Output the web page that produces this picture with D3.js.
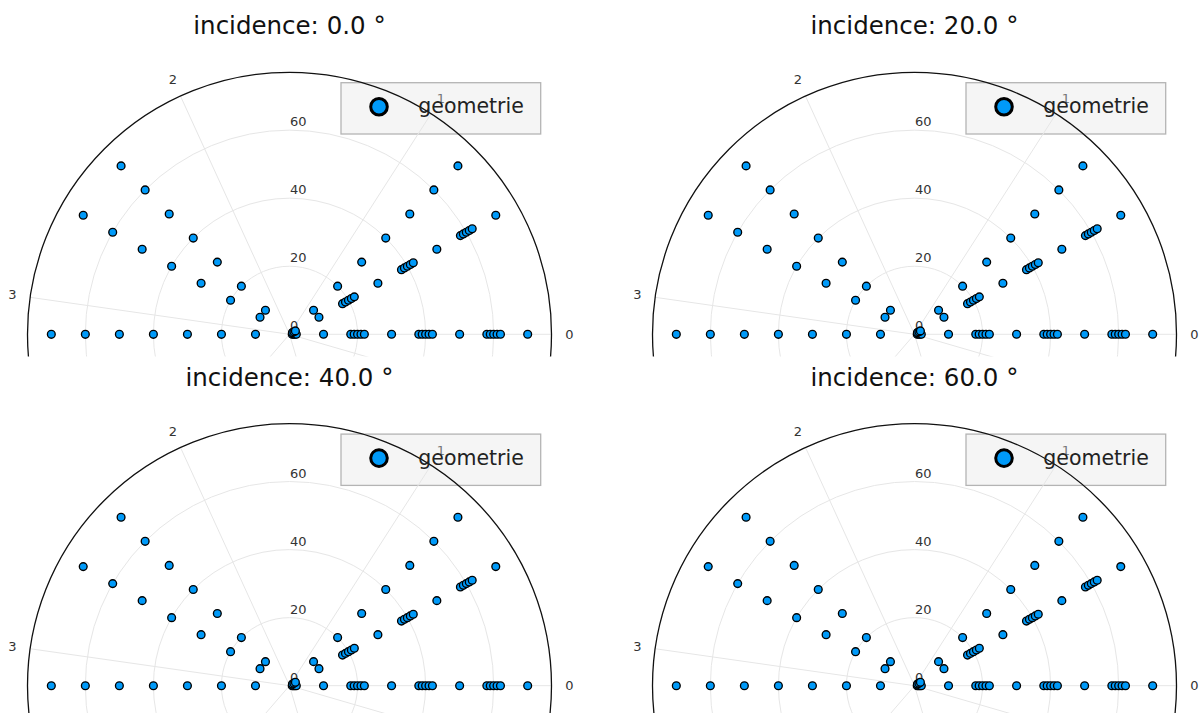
<!DOCTYPE html>
<html><head><meta charset="utf-8">
<script src="https://cdn.jsdelivr.net/npm/d3@7"></script>
<style>
body{margin:0;background:#fff}
svg{display:block}
text{font-family:"DejaVu Sans",sans-serif}
</style>
</head><body>
<svg id="chart" width="1199" height="713"></svg>
<script>
// ---- data ----
const incidences = [0.0, 20.0, 40.0, 60.0];
const seriesName = "geometrie";
const radialTicks = [0, 20, 40, 60];
const angularTicks = [0, 1, 2, 3, 4, 5, 6];
const rMax = 77;
// rays (angle in radians) and the radii of the points on each ray
const rayAngles = [0, 0.5236, 0.7854, 2.3562, 2.6180, 3.1416];
const rayRadii0   = [0.8, 1.2, 1.6, 2.0, 10, 18, 19, 20, 21, 22, 30, 38, 39, 40, 41, 42, 50, 58, 59, 60, 61, 62, 70];
const rayRadii30  = [1.0, 1.5, 2.0, 10, 18, 19, 20, 21, 22, 30, 38, 39, 40, 41, 42, 50, 58, 59, 60, 61, 62, 70];
const rayRadii45  = [10, 20, 30, 40, 50, 60, 70];
const rayRadii135 = [10, 20, 30, 40, 50, 60, 70];
const rayRadii150 = [10, 20, 30, 40, 50, 60, 70];
const rayRadii180 = [10, 20, 30, 40, 50, 60, 70];
const rayRadii = [rayRadii0, rayRadii30, rayRadii45, rayRadii135, rayRadii150, rayRadii180];

const points = [];
rayAngles.forEach((a, i) => rayRadii[i].forEach(rv => points.push({theta: a, r: rv})));

// ---- layout ----
const svg = d3.select("#chart");
const R = 262;
const rScale = d3.scaleLinear().domain([0, rMax]).range([0, R]);
const colX = [289.5, 914.5], rowY = [334.3, 685.7];
const cellX = [[0, 599.5], [599.5, 1199]], cellY = [[0, 356.5], [356.5, 713]];
const blue = "#009af9";
const gridCol = "#e6e6e6";

incidences.forEach((inc, i) => {
  const col = i % 2, row = Math.floor(i / 2);
  const cx = colX[col], cy = rowY[row];
  const px = (t, rv) => cx + rScale(rv) * Math.cos(t);
  const py = (t, rv) => cy - rScale(rv) * Math.sin(t);

  const clipId = "clip" + i;
  svg.append("clipPath").attr("id", clipId).append("rect")
    .attr("x", cellX[col][0]).attr("y", cellY[row][0])
    .attr("width", cellX[col][1] - cellX[col][0]).attr("height", cellY[row][1] - cellY[row][0]);
  const g = svg.append("g").attr("clip-path", `url(#${clipId})`);

  // legend background (below axes)
  const lx = cx + 51.5, ly = cy - 251.6;
  g.append("rect").attr("x", lx).attr("y", ly).attr("width", 199.7).attr("height", 51.3)
    .attr("fill", "#f5f5f5").attr("stroke", "#b4b4b4").attr("stroke-width", 1.3);

  // grid circles
  g.selectAll(".gc").data(radialTicks.filter(t => t > 0)).join("circle")
    .attr("cx", cx).attr("cy", cy).attr("r", d => rScale(d))
    .attr("fill", "none").attr("stroke", gridCol).attr("stroke-width", 1);
  // angular grid lines
  g.selectAll(".gl").data(angularTicks).join("line")
    .attr("x1", cx).attr("y1", cy)
    .attr("x2", d => px(d, rMax)).attr("y2", d => py(d, rMax))
    .attr("stroke", gridCol).attr("stroke-width", 1);
  // outer circle
  g.append("circle").attr("cx", cx).attr("cy", cy).attr("r", rScale(rMax))
    .attr("fill", "none").attr("stroke", "#111").attr("stroke-width", 1.3);

  // radial tick labels
  g.selectAll(".rl").data(radialTicks).join("text")
    .attr("x", cx + 0.5).attr("y", d => cy - rScale(d) - 4)
    .attr("font-size", 13).attr("fill", "#333").text(d => d);
  // angular tick labels (only those that fall inside the visible cell)
  const LR = R + 18;
  g.selectAll(".al").data(angularTicks.filter(d => cy - LR * Math.sin(d) < cellY[row][1] - 6)).join("text")
    .attr("x", d => cx + LR * Math.cos(d)).attr("y", d => cy - LR * Math.sin(d))
    .attr("text-anchor", "middle").attr("dominant-baseline", "central")
    .attr("font-size", 13).attr("fill", d => d === 1 ? "#777" : "#333").text(d => d);

  // points
  g.selectAll(".pt").data(points).join("circle")
    .attr("cx", d => px(d.theta, d.r)).attr("cy", d => py(d.theta, d.r))
    .attr("r", 3.9).attr("fill", blue).attr("stroke", "#000").attr("stroke-width", 1.35);

  // legend contents
  g.append("circle").attr("cx", lx + 38).attr("cy", ly + 24).attr("r", 8.3)
    .attr("fill", blue).attr("stroke", "#000").attr("stroke-width", 3);
  g.append("text").attr("x", lx + 77.3).attr("y", ly + 30.6)
    .attr("font-size", 20.5).attr("fill", "#222").text(seriesName);

  // title
  g.append("text").attr("x", cx).attr("y", cy - 300)
    .attr("text-anchor", "middle").attr("font-size", 24.5).attr("fill", "#111")
    .text(`incidence: ${inc.toFixed(1)} °`);
});
</script>
</body></html>
